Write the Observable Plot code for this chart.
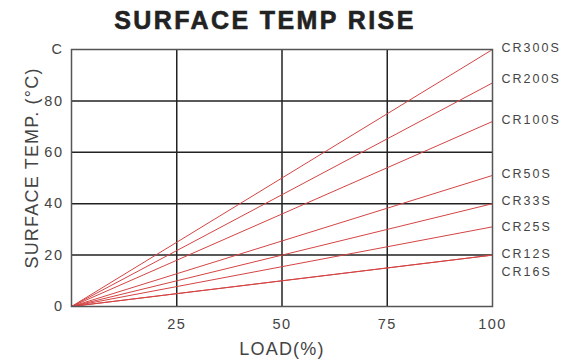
<!DOCTYPE html>
<html><head><meta charset="utf-8">
<script src="https://cdn.jsdelivr.net/npm/d3@7"></script>
<script src="https://cdn.jsdelivr.net/npm/@observablehq/plot@0.6"></script>
<style>
body{margin:0;background:#fff;font-family:"Liberation Sans",Arial,sans-serif;}
#title{width:576px;height:36px;box-sizing:border-box;padding-right:46px;text-align:center;font-weight:bold;font-size:25px;letter-spacing:2.4px;line-height:40px;color:#222;-webkit-text-stroke:0.6px #222;}
#chart svg{display:block;}
</style></head>
<body>
<div id="title">SURFACE TEMP RISE</div>
<div id="chart"></div>
<script>
const series = ["CR300S","CR200S","CR100S","CR50S","CR33S","CR25S","CR12S","CR16S"];
const endTemp = [100, 87, 72, 51, 40, 31, 20, 20];   // °C at 100% load
const labelY = [100.4, 88.7, 72.4, 51.4, 40.9, 31.1, 20.6, 13.6]; // label positions
const loadRange = [0, 100];
const xTicks = [25, 50, 75, 100];
const yTicks = [0, 20, 40, 60, 80, 100];
const xGrid = [25, 50, 75];
const yGrid = [20, 40, 60, 80];

const segs = series.map((s, i) => ({s, x1: loadRange[0], y1: 0, x2: loadRange[1], y2: endTemp[i]}));
const labels = series.map((s, i) => ({s, x: loadRange[1], y: labelY[i]}));

const chart = Plot.plot({
  width: 576, height: 327,
  marginLeft: 71, marginRight: 84, marginTop: 13, marginBottom: 57,
  style: {fontFamily: '"Liberation Sans", Arial, sans-serif', color: "#444", background: "#fff"},
  x: {domain: loadRange},
  y: {domain: [0, 100]},
  marks: [
    Plot.gridX(xGrid, {stroke: "#222", strokeOpacity: 1, strokeWidth: 1.5}),
    Plot.gridY(yGrid, {stroke: "#222", strokeOpacity: 1, strokeWidth: 1.5}),
    Plot.link(segs, {x1: "x1", y1: "y1", x2: "x2", y2: "y2", stroke: "#d44444", strokeWidth: 1}),
    Plot.frame({stroke: "#555", strokeWidth: 1.5}),
    Plot.text(labels, {x: "x", y: "y", text: "s", dx: 9, textAnchor: "start", fontSize: 12.5, fill: "#444", className: "serlab"}),
    Plot.axisY({ticks: yTicks, tickSize: 0, tickPadding: 8, fontSize: 14.5, tickFormat: d => d === 100 ? "C" : d,
      label: "SURFACE TEMP. (°C)", labelAnchor: "center", labelArrow: "none", labelOffset: 46}),
    Plot.axisX({ticks: xTicks, tickSize: 0, tickPadding: 12, fontSize: 14.5,
      label: "LOAD(%)", labelAnchor: "center", labelArrow: "none", labelOffset: 48})
  ]
});
document.getElementById("chart").appendChild(chart);
chart.querySelectorAll('[aria-label="y-axis label"] text, [aria-label="x-axis label"] text').forEach(t => {
  t.setAttribute("font-size", 18); t.style.letterSpacing = "1.2px"; t.setAttribute("fill", "#444");
});
chart.querySelectorAll('[aria-label="y-axis label"] text').forEach(t => {
  const tr = t.getAttribute("transform") || "";
  t.setAttribute("transform", tr + " translate(10,0)");
});
chart.querySelectorAll('[aria-label="x-axis tick label"] text, [aria-label="y-axis tick label"] text').forEach(t => {
  t.style.letterSpacing = "1.5px";
});
chart.querySelectorAll('g.serlab text, .serlab text').forEach(t => {
  t.style.letterSpacing = "2px";
});
</script>
</body></html>
